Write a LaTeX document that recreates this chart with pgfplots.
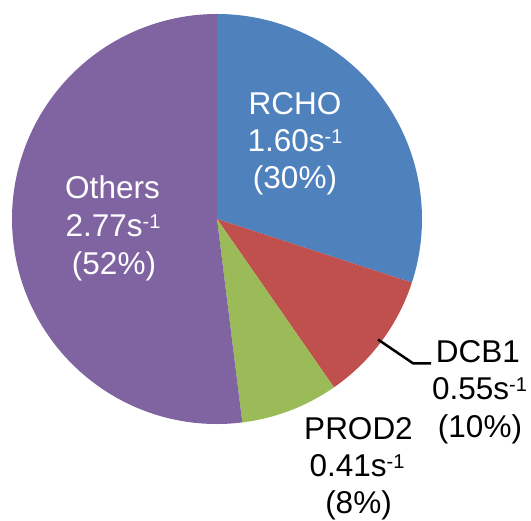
\documentclass[border=0pt]{standalone}
\usepackage{pgfplots}
\usepackage{pgfplotstable}
\pgfplotsset{compat=1.18}
\usepackage{fontspec}
\setmainfont{Liberation Sans}
\definecolor{cA}{HTML}{4F81BD}
\definecolor{cB}{HTML}{C0504D}
\definecolor{cC}{HTML}{9BBB59}
\definecolor{cD}{HTML}{8064A2}
\pgfplotstableread{
name value
RCHO 1.60
DCB1 0.55
PROD2 0.41
Others 2.77
}\piedata
\newcommand\sm[1]{\raisebox{8bp}{\fontsize{20bp}{20bp}\selectfont #1}}
\begin{document}
\begin{tikzpicture}
\tikzset{lab/.style={inner sep=0pt, anchor=base, font=\fontsize{31.5bp}{37.8bp}\selectfont}}
\pgfplotstablegetelem{0}{value}\of\piedata \let\vA\pgfplotsretval
\pgfplotstablegetelem{1}{value}\of\piedata \let\vB\pgfplotsretval
\pgfplotstablegetelem{2}{value}\of\piedata \let\vC\pgfplotsretval
\pgfplotstablegetelem{3}{value}\of\piedata \let\vD\pgfplotsretval
\pgfmathsetmacro\total{\vA+\vB+\vC+\vD}
\pgfmathsetmacro\aA{90}
\pgfmathsetmacro\aB{\aA-360*\vA/\total}
\pgfmathsetmacro\aC{\aB-360*\vB/\total}
\pgfmathsetmacro\aD{\aC-360*\vC/\total}
\pgfmathsetmacro\aE{\aD-360*\vD/\total}
\begin{axis}[hide axis, scale only axis, width=531bp, height=521bp,
  xmin=0, xmax=531, ymin=0, ymax=521, clip=false]
\fill[cA] (axis cs:217,302) -- ([shift={(\aA:205bp)}]axis cs:217,302) arc[start angle=\aA, end angle=\aB, radius=205bp] -- cycle;
\fill[cB] (axis cs:217,302) -- ([shift={(\aB:205bp)}]axis cs:217,302) arc[start angle=\aB, end angle=\aC, radius=205bp] -- cycle;
\fill[cC] (axis cs:217,302) -- ([shift={(\aC:205bp)}]axis cs:217,302) arc[start angle=\aC, end angle=\aD, radius=205bp] -- cycle;
\fill[cD] (axis cs:217,302) -- ([shift={(\aD:205bp)}]axis cs:217,302) arc[start angle=\aD, end angle=\aE, radius=205bp] -- cycle;
\addplot[black, line width=2.5bp, mark=none] coordinates {(378,181.5) (413,157.7) (431,157.7)};
% RCHO
\node[lab, white] at (axis cs:295,406) {RCHO};
\node[lab, white] at (axis cs:295,369.3) {1.60s\sm{-1}};
\node[lab, white] at (axis cs:295,332) {(30\%)};
% Others
\node[lab, white] at (axis cs:112.5,322) {Others};
\node[lab, white] at (axis cs:113,284) {2.77s\sm{-1}};
\node[lab, white] at (axis cs:114,246) {(52\%)};
% DCB1
\node[lab] at (axis cs:478,158.3) {DCB1};
\node[lab] at (axis cs:479.5,121) {0.55s\sm{-1}};
\node[lab] at (axis cs:480,83) {(10\%)};
% PROD2
\node[lab] at (axis cs:358.5,81) {PROD2};
\node[lab] at (axis cs:357,44.3) {0.41s\sm{-1}};
\node[lab] at (axis cs:358.5,7) {(8\%)};
\end{axis}
\pgfresetboundingbox
\useasboundingbox (current axis.south west) rectangle (current axis.north east);
\end{tikzpicture}
\end{document}
